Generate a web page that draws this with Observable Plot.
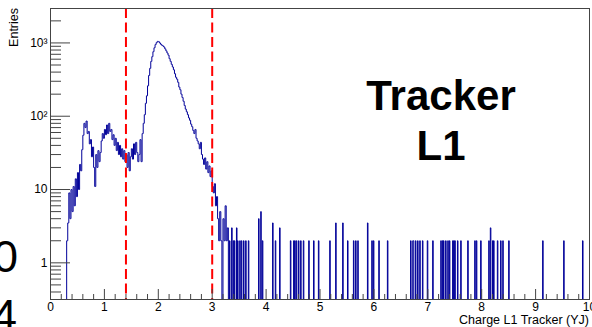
<!DOCTYPE html>
<html>
<head>
<meta charset="utf-8">
<script src="https://cdn.jsdelivr.net/npm/d3@7"></script>
<script src="https://cdn.jsdelivr.net/npm/@observablehq/plot@0.6"></script>
<style>
  html, body { margin: 0; padding: 0; background: #fff; overflow: hidden; }
  #chart { position: relative; width: 592px; height: 327px; }
</style>
</head>
<body>
<div id="chart"></div>
<script>
// Charge L1 Tracker (YJ) histogram, log-scale entries.
// Main body: consecutive bins of width 0.02 starting at 0.30.
const binStart = 0.30;
const binWidth = 0.02;
const mainCounts = [
  2, 3.5, 9, 4, 10, 5, 11, 6, 14, 8, 17, 10, 22, 18, 35,
  55, 80, 70, 86, 58, 62, 42, 48, 28, 38, 20, 11, 30, 20, 34, 24, 32,
  46, 58, 50, 66, 56, 76, 58, 80, 62, 66, 48, 56, 40, 50, 34, 44, 30, 40,
  28, 36, 26, 34, 24, 30, 20, 32, 18, 28, 36, 26, 42, 30, 44, 32, 24,
  30, 48, 24, 58, 80, 105, 150, 190, 260, 360, 450, 560, 650, 760, 860, 950, 1010, 1050,
  1040, 1000, 960, 930, 910, 880, 830, 780, 730, 680, 610, 560, 510, 470, 430,
  380, 340, 320, 290, 250, 230, 200, 180, 160, 140, 125, 115, 105, 95, 88,
  78, 72, 64, 58, 66, 50, 46, 42, 36, 44, 30, 26, 22, 27, 19, 24, 17, 21,
  15, 18, 11, 9, 12, 6, 8, 4, 2, 5, 2, 0, 4, 2, 6, 2, 3
];

// Sparse tail: isolated bins (charge, entries)
const tailCharge = [
  3.32, 3.36, 3.39, 3.41, 3.45, 3.47, 3.51, 3.54, 3.58, 3.62, 3.67, 3.86, 3.90, 3.93,
  4.12, 4.17, 4.25, 4.45, 4.51, 4.53, 4.56, 4.60, 4.64, 4.69, 4.79, 4.88, 4.97,
  5.18, 5.29, 5.42, 5.51, 5.62, 5.66, 5.70, 5.88, 5.96, 5.99, 6.09, 6.25,
  6.68, 6.72, 6.73, 6.77, 6.81, 6.85, 6.90, 6.99, 7.09, 7.24, 7.27, 7.29, 7.33,
  7.37, 7.40, 7.46, 7.48, 7.50, 7.55, 7.61, 7.74, 7.87, 7.90, 7.98,
  8.13, 8.16, 8.20, 8.22, 8.29, 8.35, 8.39, 8.50, 9.13, 9.52, 9.87
];
const tailCounts = [
  2, 3, 2, 2, 3, 2, 2, 2, 2, 2, 2, 4, 5, 2,
  3.5, 2, 3, 2, 2, 2, 2, 2, 2, 2, 2, 2, 2,
  2, 3.5, 3.5, 2, 2, 2, 2, 3.5, 2, 2, 2, 2,
  2, 2, 2, 2, 2, 2, 2, 2, 2, 2, 2, 2, 2,
  2, 2, 2, 2, 2, 2, 2, 2, 2, 2, 2,
  2, 3, 2, 2, 2, 2, 2, 2, 2, 2, 2
];

// Selection cuts
const cutLines = [1.4, 3.0];

// Axis ticks and labels
const xTicks = [0, 1, 2, 3, 4, 5, 6, 7, 8, 9, 10];
const yTicks = [1, 10, 100, 1000];
const yTickLabels = ["1", "10", "10\u00B2", "10\u00B3"];

const xMinor = d3.range(0, 50).map(i => i * 0.2).filter(v => Math.abs(v - Math.round(v)) > 1e-6);
const yMinor = [0.4, 0.5, 0.6, 0.7, 0.8, 0.9]
  .concat([1, 10, 100].flatMap(d => d3.range(2, 10).map(m => m * d)))
  .concat([2000]);

// Fine grid of 0.01-wide bins so every bin is drawn as a step of the outline
const grid = new Array(1001).fill(0);
mainCounts.forEach((c, i) => {
  const k = Math.round((binStart + i * binWidth) * 100);
  grid[k] = c;
  grid[k + 1] = c;
});
tailCharge.forEach((q, i) => { grid[Math.round(q * 100)] = tailCounts[i]; });
const floorValue = 0.05; // empty bins fall below the visible range
const steps = grid.map((c, k) => ({ charge: k / 100, entries: c > 0 ? c : floorValue }));

const yLabel = new Map(yTicks.map((t, i) => [t, yTickLabels[i]]));
const axisColor = "#444";

const plot = Plot.plot({
  width: 592,
  height: 327,
  marginLeft: 50,
  marginRight: 3,
  marginTop: 8,
  marginBottom: 28,
  style: {
    fontFamily: "'Liberation Sans', Arial, sans-serif",
    fontSize: "12px",
    background: "#fff",
    color: "#000",
    overflow: "visible"
  },
  x: { domain: [0, 10], label: null },
  y: { type: "log", domain: [0.316, 2950], label: null },
  marks: [
    Plot.line(steps, {
      x: "charge", y: "entries", curve: "step-after",
      stroke: "#000099", strokeWidth: 1, clip: true
    }),
    Plot.ruleX(cutLines, { stroke: "#ff0000", strokeWidth: 2, strokeDasharray: "10,4.5" }),
    Plot.axisX(xMinor, { tickSize: -5, fill: "none", label: null, stroke: axisColor }),
    Plot.axisX(xTicks, { tickSize: -10, tickPadding: 13, label: null, stroke: axisColor, tickFormat: d => String(d) }),
    Plot.axisY(yMinor, { tickSize: -11, fill: "none", label: null, stroke: axisColor }),
    Plot.axisY(yTicks, { tickSize: -20, tickPadding: 23, label: null, stroke: axisColor, tickFormat: d => yLabel.get(d) }),
    Plot.frame({ stroke: axisColor })
  ]
});

const svg = d3.select(plot);
const addText = (str, attrs) => {
  const t = svg.append("text").attr("fill", "#000").text(str);
  Object.entries(attrs).forEach(([k, v]) => t.attr(k, v));
  return t;
};
addText("Entries", { transform: "translate(18,8) rotate(-90)", "text-anchor": "end", "font-size": 12.5 });
addText("Charge L1 Tracker (YJ)", { x: 589, y: 324, "text-anchor": "end", "font-size": 12.5 });
addText("Tracker", { x: 441, y: 110, "text-anchor": "middle", "font-size": 42, "font-weight": "bold" });
addText("L1", { x: 441, y: 160, "text-anchor": "middle", "font-size": 42, "font-weight": "bold" });
addText("0", { x: -7, y: 272, "text-anchor": "start", "font-size": 45 });
addText("4", { x: -8, y: 331, "text-anchor": "start", "font-size": 45 });

document.getElementById("chart").appendChild(plot);
</script>
</body>
</html>
